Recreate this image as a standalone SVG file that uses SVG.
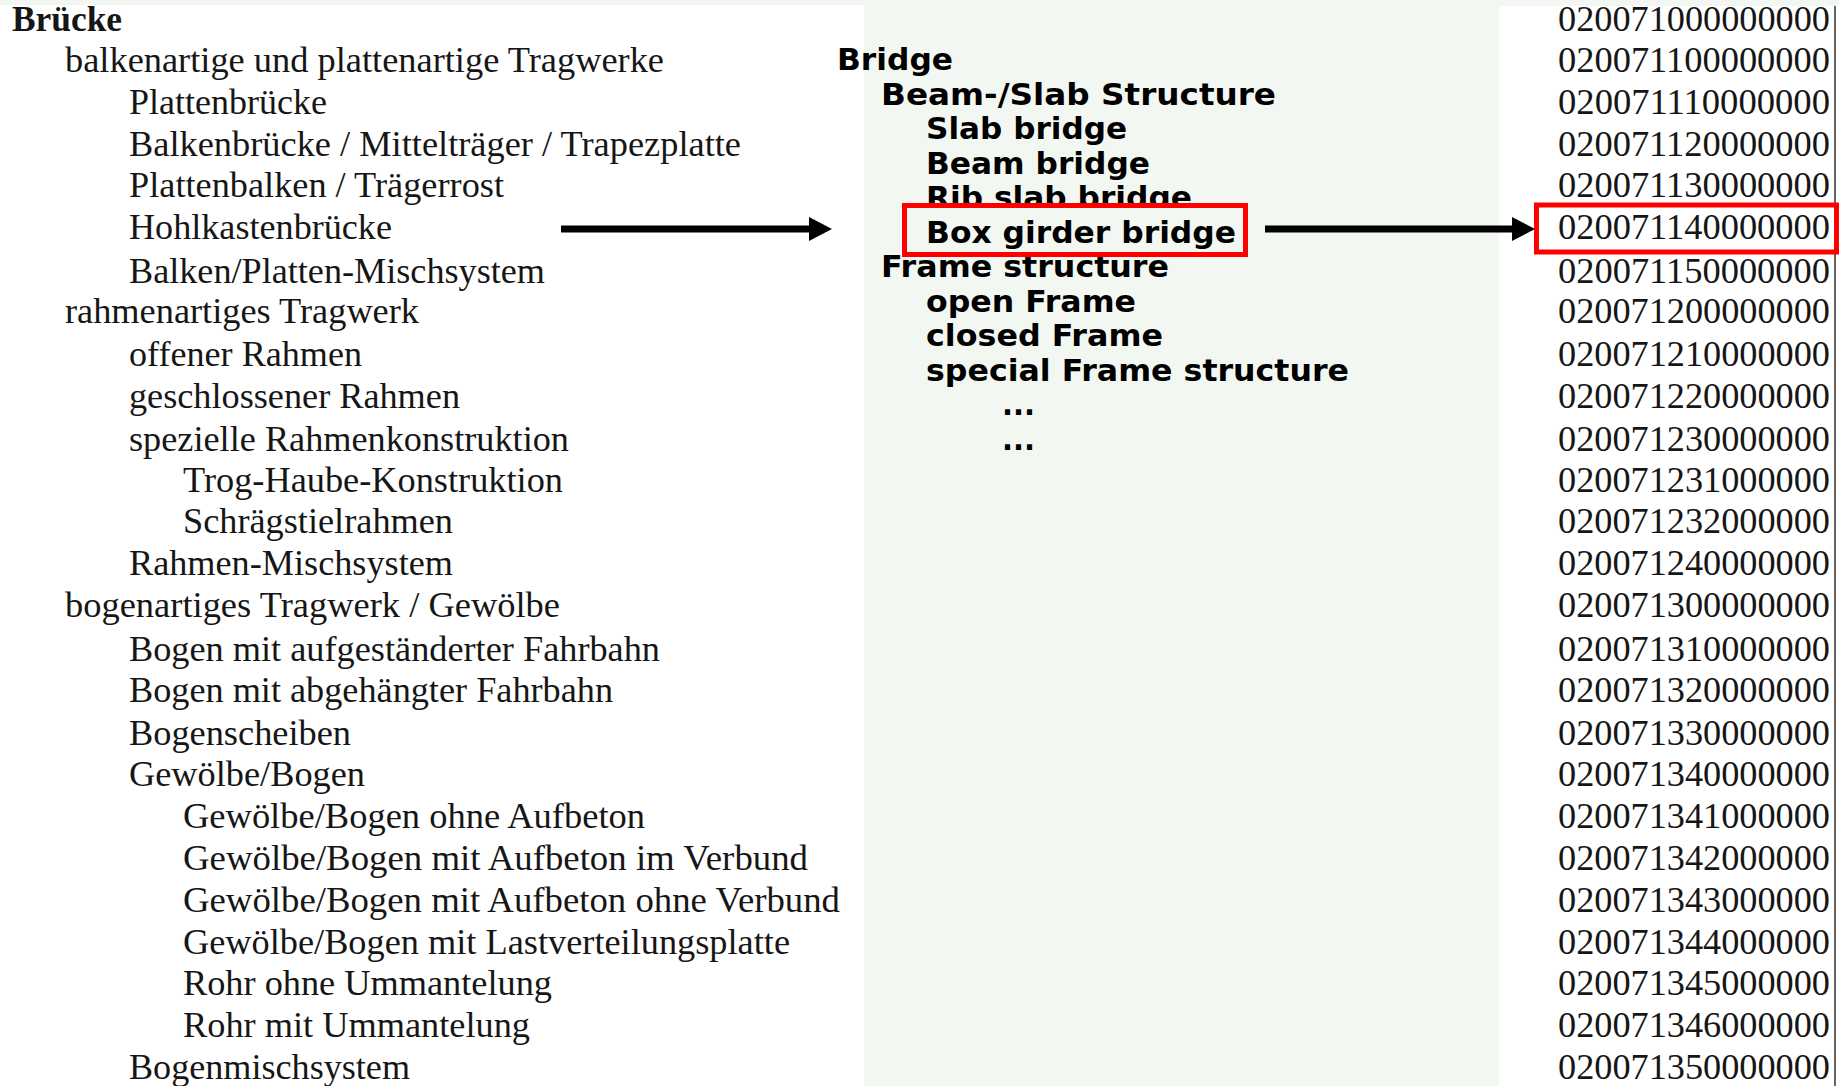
<svg xmlns="http://www.w3.org/2000/svg" width="1839" height="1086" viewBox="0 0 1839 1086">
  <style>
    .de { font-family: "Liberation Serif", "Times New Roman", serif; font-size: 36px; fill: #161616; }
    .de-b { font-weight: bold; }
    .code { font-family: "Liberation Serif", "Times New Roman", serif; font-size: 36px; fill: #161616; }
    .en { font-family: "DejaVu Sans", Verdana, sans-serif; font-weight: bold; font-size: 31px; fill: #000; }
    .mark { fill: none; stroke: #ff0000; stroke-width: 5; }
    .arrow { stroke: #000; stroke-width: 7; fill: none; marker-end: url(#head); }
  </style>
  <defs>
    <marker id="head" markerUnits="userSpaceOnUse" markerWidth="24" markerHeight="24" refX="3" refY="12" orient="auto">
      <path d="M0,0 L23,12 L0,24 Z" fill="#000"/>
    </marker>
  </defs>

  <!-- backdrop and the two white columns -->
  <rect x="0" y="0" width="1839" height="1086" fill="#f2f8f1"/>
  <rect x="0" y="5" width="864" height="1081" fill="#ffffff"/>
  <rect x="1499" y="6" width="340" height="1080" fill="#ffffff"/>
  <line x1="1835" y1="6" x2="1835" y2="1086" stroke="#333" stroke-width="1.5"/>

  <!-- German classification tree -->
  <g id="tree-de">
    <text class="de de-b" x="12" y="31" textLength="110" lengthAdjust="spacingAndGlyphs">Brücke</text>
    <text class="de" x="65" y="72" textLength="599" lengthAdjust="spacingAndGlyphs">balkenartige und plattenartige Tragwerke</text>
    <text class="de" x="129" y="114" textLength="198" lengthAdjust="spacingAndGlyphs">Plattenbrücke</text>
    <text class="de" x="129" y="156" textLength="612" lengthAdjust="spacingAndGlyphs">Balkenbrücke / Mittelträger / Trapezplatte</text>
    <text class="de" x="129" y="197" textLength="375" lengthAdjust="spacingAndGlyphs">Plattenbalken / Trägerrost</text>
    <text class="de" x="129" y="239" textLength="263" lengthAdjust="spacingAndGlyphs">Hohlkastenbrücke</text>
    <text class="de" x="129" y="283" textLength="416" lengthAdjust="spacingAndGlyphs">Balken/Platten-Mischsystem</text>
    <text class="de" x="65" y="323" textLength="354" lengthAdjust="spacingAndGlyphs">rahmenartiges Tragwerk</text>
    <text class="de" x="129" y="366" textLength="233" lengthAdjust="spacingAndGlyphs">offener Rahmen</text>
    <text class="de" x="129" y="408" textLength="331" lengthAdjust="spacingAndGlyphs">geschlossener Rahmen</text>
    <text class="de" x="129" y="451" textLength="440" lengthAdjust="spacingAndGlyphs">spezielle Rahmenkonstruktion</text>
    <text class="de" x="183" y="492" textLength="380" lengthAdjust="spacingAndGlyphs">Trog-Haube-Konstruktion</text>
    <text class="de" x="183" y="533" textLength="270" lengthAdjust="spacingAndGlyphs">Schrägstielrahmen</text>
    <text class="de" x="129" y="575" textLength="324" lengthAdjust="spacingAndGlyphs">Rahmen-Mischsystem</text>
    <text class="de" x="65" y="617" textLength="495" lengthAdjust="spacingAndGlyphs">bogenartiges Tragwerk / Gewölbe</text>
    <text class="de" x="129" y="661" textLength="531" lengthAdjust="spacingAndGlyphs">Bogen mit aufgeständerter Fahrbahn</text>
    <text class="de" x="129" y="702" textLength="484" lengthAdjust="spacingAndGlyphs">Bogen mit abgehängter Fahrbahn</text>
    <text class="de" x="129" y="745" textLength="222" lengthAdjust="spacingAndGlyphs">Bogenscheiben</text>
    <text class="de" x="129" y="786" textLength="236" lengthAdjust="spacingAndGlyphs">Gewölbe/Bogen</text>
    <text class="de" x="183" y="828" textLength="462" lengthAdjust="spacingAndGlyphs">Gewölbe/Bogen ohne Aufbeton</text>
    <text class="de" x="183" y="870" textLength="625" lengthAdjust="spacingAndGlyphs">Gewölbe/Bogen mit Aufbeton im Verbund</text>
    <text class="de" x="183" y="912" textLength="657" lengthAdjust="spacingAndGlyphs">Gewölbe/Bogen mit Aufbeton ohne Verbund</text>
    <text class="de" x="183" y="954" textLength="607" lengthAdjust="spacingAndGlyphs">Gewölbe/Bogen mit Lastverteilungsplatte</text>
    <text class="de" x="183" y="995" textLength="369" lengthAdjust="spacingAndGlyphs">Rohr ohne Ummantelung</text>
    <text class="de" x="183" y="1037" textLength="347" lengthAdjust="spacingAndGlyphs">Rohr mit Ummantelung</text>
    <text class="de" x="129" y="1079" textLength="281" lengthAdjust="spacingAndGlyphs">Bogenmischsystem</text>
  </g>

  <!-- English tree -->
  <g id="tree-en">
    <text class="en" x="837" y="70" textLength="116" lengthAdjust="spacingAndGlyphs">Bridge</text>
    <text class="en" x="881" y="104.5" textLength="395" lengthAdjust="spacingAndGlyphs">Beam-/Slab Structure</text>
    <text class="en" x="926" y="139" textLength="201" lengthAdjust="spacingAndGlyphs">Slab bridge</text>
    <text class="en" x="926" y="173.5" textLength="224" lengthAdjust="spacingAndGlyphs">Beam bridge</text>
    <text class="en" x="926" y="208" textLength="266" lengthAdjust="spacingAndGlyphs">Rib slab bridge</text>
    <rect x="902" y="205.5" width="346" height="49" fill="#f2f8f1"/>
    <text class="en" x="926" y="242.5" textLength="310" lengthAdjust="spacingAndGlyphs">Box girder bridge</text>
    <text class="en" x="881" y="277" textLength="288" lengthAdjust="spacingAndGlyphs">Frame structure</text>
    <text class="en" x="926" y="311.5" textLength="210" lengthAdjust="spacingAndGlyphs">open Frame</text>
    <text class="en" x="926" y="346" textLength="237" lengthAdjust="spacingAndGlyphs">closed Frame</text>
    <text class="en" x="926" y="380.5" textLength="423" lengthAdjust="spacingAndGlyphs">special Frame structure</text>
    <text class="en" x="1002" y="415" textLength="33" lengthAdjust="spacingAndGlyphs">...</text>
    <text class="en" x="1002" y="449.5" textLength="33" lengthAdjust="spacingAndGlyphs">...</text>
  </g>

  <!-- classification codes -->
  <g id="codes">
    <text class="code" x="1558" y="31" textLength="272" lengthAdjust="spacingAndGlyphs">020071000000000</text>
    <text class="code" x="1558" y="72" textLength="272" lengthAdjust="spacingAndGlyphs">020071100000000</text>
    <text class="code" x="1558" y="114" textLength="272" lengthAdjust="spacingAndGlyphs">020071110000000</text>
    <text class="code" x="1558" y="156" textLength="272" lengthAdjust="spacingAndGlyphs">020071120000000</text>
    <text class="code" x="1558" y="197" textLength="272" lengthAdjust="spacingAndGlyphs">020071130000000</text>
    <text class="code" x="1558" y="239" textLength="272" lengthAdjust="spacingAndGlyphs">020071140000000</text>
    <text class="code" x="1558" y="283" textLength="272" lengthAdjust="spacingAndGlyphs">020071150000000</text>
    <text class="code" x="1558" y="323" textLength="272" lengthAdjust="spacingAndGlyphs">020071200000000</text>
    <text class="code" x="1558" y="366" textLength="272" lengthAdjust="spacingAndGlyphs">020071210000000</text>
    <text class="code" x="1558" y="408" textLength="272" lengthAdjust="spacingAndGlyphs">020071220000000</text>
    <text class="code" x="1558" y="451" textLength="272" lengthAdjust="spacingAndGlyphs">020071230000000</text>
    <text class="code" x="1558" y="492" textLength="272" lengthAdjust="spacingAndGlyphs">020071231000000</text>
    <text class="code" x="1558" y="533" textLength="272" lengthAdjust="spacingAndGlyphs">020071232000000</text>
    <text class="code" x="1558" y="575" textLength="272" lengthAdjust="spacingAndGlyphs">020071240000000</text>
    <text class="code" x="1558" y="617" textLength="272" lengthAdjust="spacingAndGlyphs">020071300000000</text>
    <text class="code" x="1558" y="661" textLength="272" lengthAdjust="spacingAndGlyphs">020071310000000</text>
    <text class="code" x="1558" y="702" textLength="272" lengthAdjust="spacingAndGlyphs">020071320000000</text>
    <text class="code" x="1558" y="745" textLength="272" lengthAdjust="spacingAndGlyphs">020071330000000</text>
    <text class="code" x="1558" y="786" textLength="272" lengthAdjust="spacingAndGlyphs">020071340000000</text>
    <text class="code" x="1558" y="828" textLength="272" lengthAdjust="spacingAndGlyphs">020071341000000</text>
    <text class="code" x="1558" y="870" textLength="272" lengthAdjust="spacingAndGlyphs">020071342000000</text>
    <text class="code" x="1558" y="912" textLength="272" lengthAdjust="spacingAndGlyphs">020071343000000</text>
    <text class="code" x="1558" y="954" textLength="272" lengthAdjust="spacingAndGlyphs">020071344000000</text>
    <text class="code" x="1558" y="995" textLength="272" lengthAdjust="spacingAndGlyphs">020071345000000</text>
    <text class="code" x="1558" y="1037" textLength="272" lengthAdjust="spacingAndGlyphs">020071346000000</text>
    <text class="code" x="1558" y="1079" textLength="272" lengthAdjust="spacingAndGlyphs">020071350000000</text>
  </g>

  <!-- highlight frames -->
  <g id="highlights">
    <rect class="mark" x="904.5" y="205.5" width="341" height="49"/>
    <rect class="mark" x="1536.5" y="205" width="300" height="47"/>
  </g>

  <!-- connectors -->
  <g id="connectors">
    <line class="arrow" x1="561" y1="229" x2="812" y2="229"/>
    <line class="arrow" x1="1265" y1="229" x2="1515" y2="229"/>
  </g>
</svg>
